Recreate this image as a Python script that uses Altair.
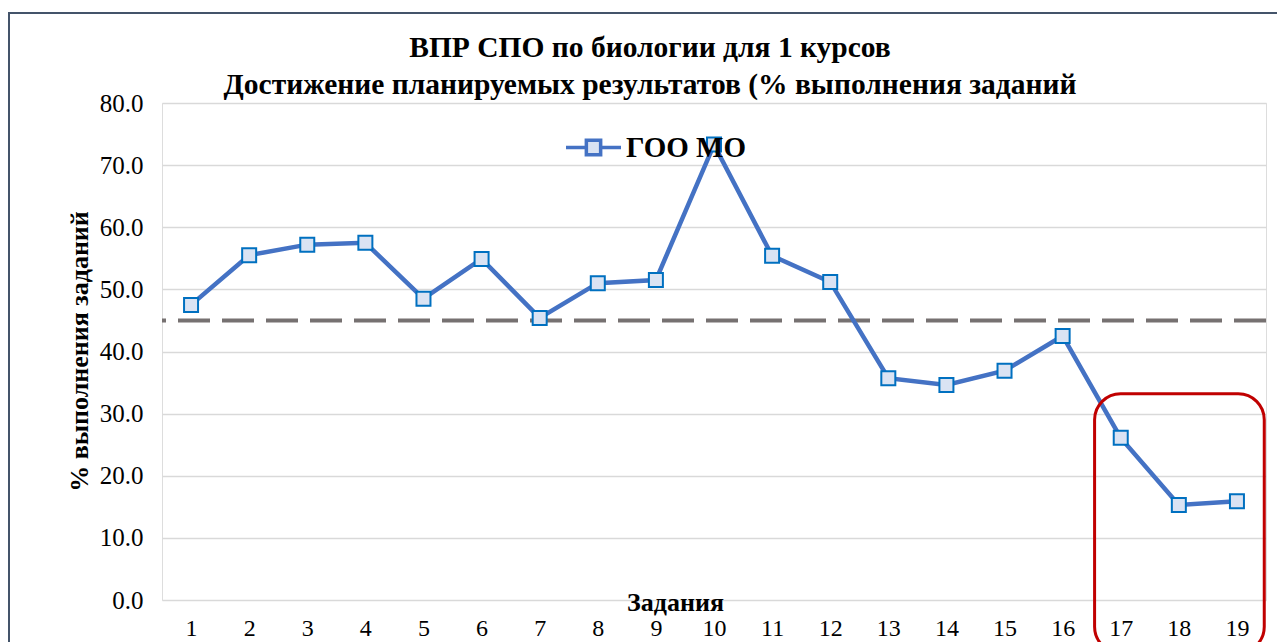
import altair as alt
import pandas as pd

tasks = list(range(1, 20))
values = [47.5, 55.5, 57.2, 57.5, 48.5, 54.9, 45.4, 51.0, 51.5, 73.3,
          55.4, 51.2, 35.7, 34.6, 36.9, 42.5, 26.1, 15.3, 15.9]
series_name = "ГОО МО"
threshold = 45.0
y_ticks = [0, 10, 20, 30, 40, 50, 60, 70, 80]

title_lines = ["ВПР СПО по биологии для 1 курсов",
               "Достижение планируемых результатов (% выполнения заданий"]
y_title = "% выполнения заданий"
x_title = "Задания"

# highlight box around tasks 17-19 (data space)
box = pd.DataFrame({"x1": [16.55], "x2": [19.47], "y1": [33.2], "y2": [-8.5]})

df = pd.DataFrame({"task": tasks, "value": values, "series": [series_name] * len(tasks)})

FONT = "'Liberation Serif', 'Times New Roman', serif"
W, H = 1104, 497

xscale = alt.Scale(domain=[0.5, 19.5], nice=False, zero=False)
yscale = alt.Scale(domain=[0, 80], nice=False)

base = alt.Chart(df)

x_enc = alt.X("task:Q", scale=xscale,
              axis=alt.Axis(values=tasks, format="d", grid=False, domain=False, ticks=False,
                            labelFont=FONT, labelFontSize=24, labelColor="#000000",
                            labelPadding=16, labelFlush=False,
                            title=x_title, titleFont=FONT, titleFontSize=26,
                            titleFontWeight="bold", titleColor="#000000",
                            titleX=513, titleY=2, titleAlign="center",
                            titleBaseline="middle", titleAnchor="start"))
y_enc = alt.Y("value:Q", scale=yscale,
              axis=alt.Axis(values=y_ticks, format=".1f", grid=True, gridColor="#D9D9D9",
                            gridWidth=1.5, domain=False, ticks=False,
                            labelFont=FONT, labelFontSize=25, labelColor="#000000",
                            labelPadding=19,
                            title=y_title, titleFont=FONT, titleFontSize=26,
                            titleFontWeight="bold", titleColor="#000000",
                            titleAngle=270, titleX=-83, titleY=248,
                            titleAlign="center", titleBaseline="middle"))

thr = alt.Chart(pd.DataFrame({"y": [threshold]})).mark_rule(
    color="#767171", strokeWidth=4, strokeDash=[32, 12]
).encode(y=alt.Y("y:Q", scale=yscale))

line = base.mark_line(color="#4472C4", strokeWidth=4.5).encode(x=x_enc, y=y_enc)

legend_path = "M-1,0H-0.26M0.26,0H1M-0.26,-0.26H0.26V0.26H-0.26Z"

points = base.mark_point(shape="square", size=196, filled=True, stroke="#0070C0",
                         strokeWidth=2, opacity=1).encode(
    x="task:Q", y="value:Q",
    fill=alt.Fill("series:N", scale=alt.Scale(range=["#DAE3F3"]),
                  legend=alt.Legend(title=None, orient="none", legendX=402, legendY=15,
                                    symbolType=legend_path, symbolSize=3025,
                                    symbolStrokeColor="#4472C4", symbolStrokeWidth=3.5,
                                    labelFont=FONT, labelFontSize=29, labelFontWeight="bold",
                                    labelColor="#000000", labelOffset=3, padding=0,
                                    labelLimit=400))
)

red_box = alt.Chart(box).mark_rect(fill=None, stroke="#C00000", strokeWidth=3,
                                   cornerRadius=26, clip=False).encode(
    x=alt.X("x1:Q", scale=xscale), x2="x2:Q",
    y=alt.Y("y1:Q", scale=yscale), y2="y2:Q")

border = alt.Chart(pd.DataFrame({"a": [0]})).mark_rect(
    fill=None, stroke="#44546A", strokeWidth=2
).encode(x=alt.value(-153), x2=alt.value(W + 300), y=alt.value(-90), y2=alt.value(H + 300))

chart = alt.layer(thr, line, points, red_box, border).properties(
    width=W, height=H,
    title=alt.TitleParams(text=title_lines, anchor="middle", frame="group", dx=-64, dy=96,
                          font=FONT, fontSize=29.5, fontWeight="bold", color="#000000",
                          lineHeight=37, offset=8),
    autosize=alt.AutoSizeParams(type="none"),
    padding={"left": 154, "top": 95, "right": 11, "bottom": 42},
).configure_view(stroke=None).configure(background="#FFFFFF")

chart.save("out.html", embed_options={"renderer": "svg", "actions": False})
